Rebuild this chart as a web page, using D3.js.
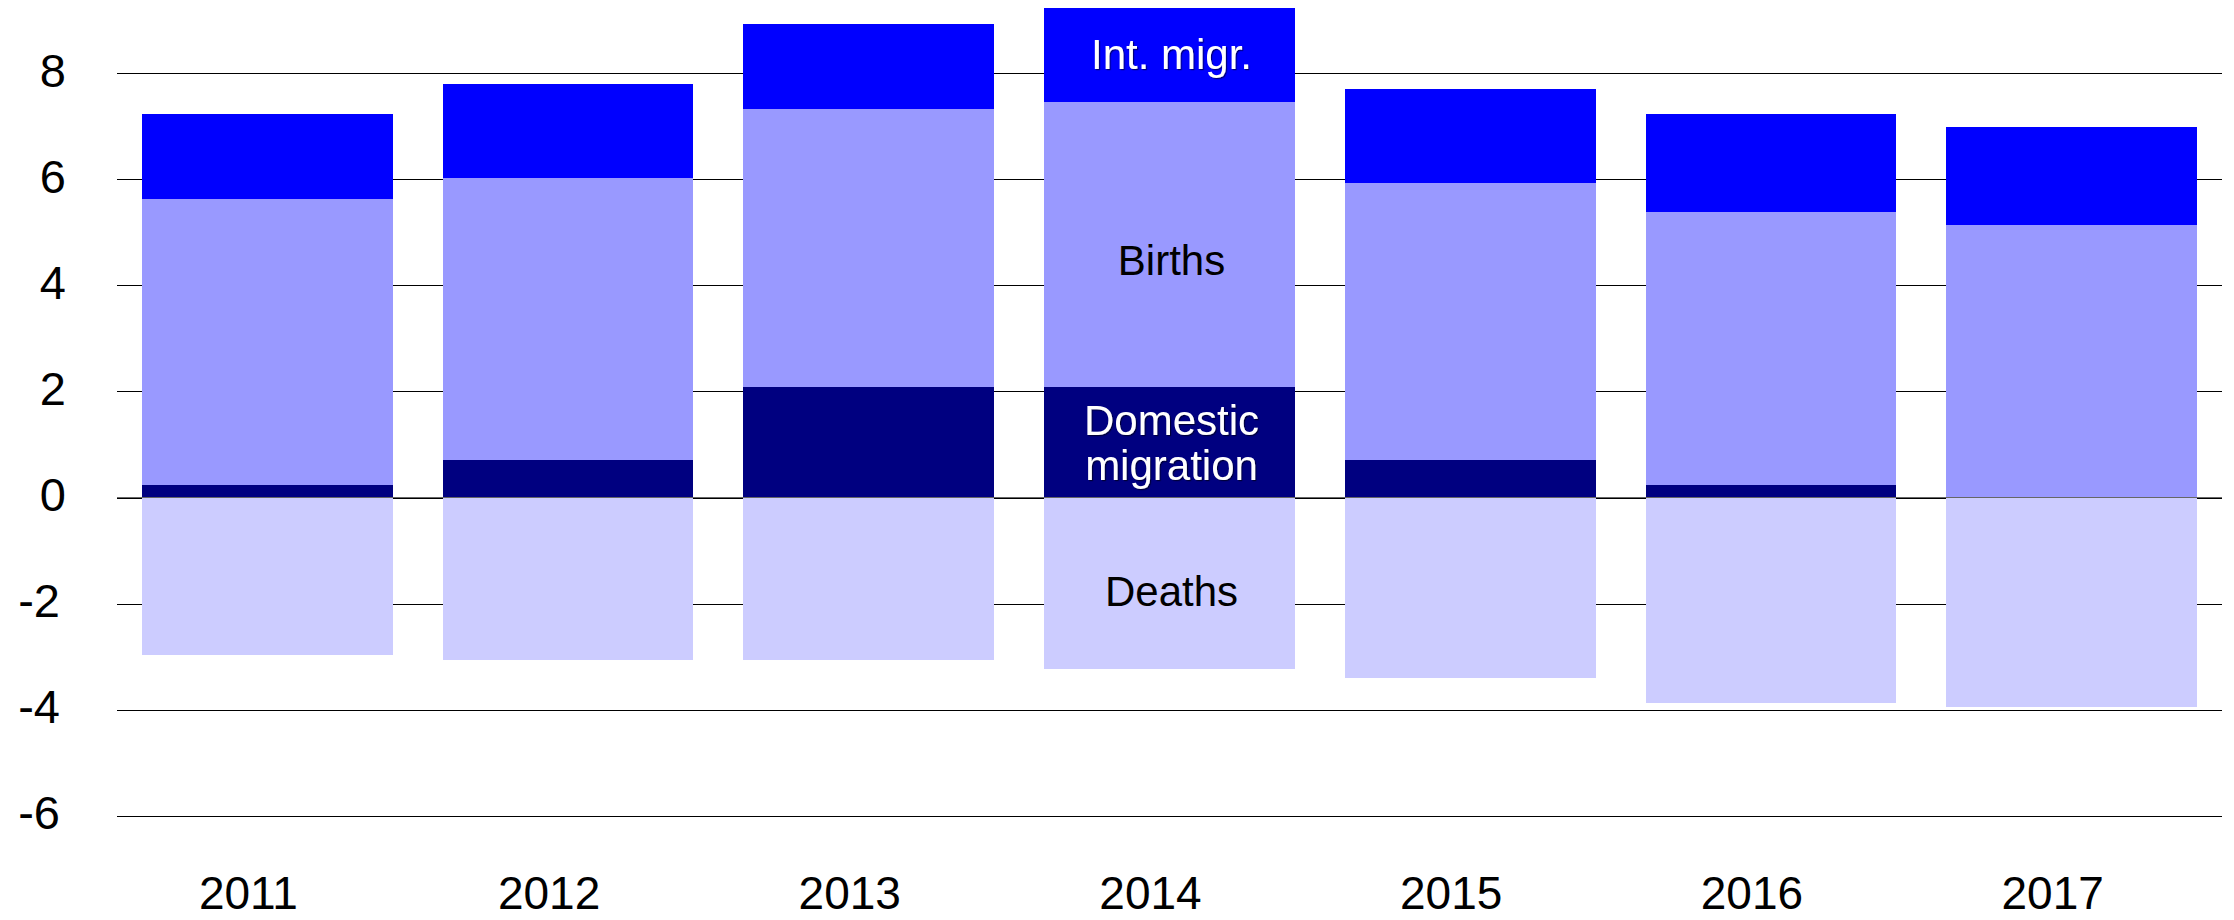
<!DOCTYPE html>
<html>
<head>
<meta charset="utf-8">
<script src="https://cdn.jsdelivr.net/npm/d3@7"></script>
<style>
  html, body { margin: 0; padding: 0; background: #fff; }
  svg { display: block; }
  text { font-family: "Liberation Sans", Arial, sans-serif; }
</style>
</head>
<body>
<svg id="chart" width="2234" height="920"></svg>
<script>
// ---- data ----
const years     = ["2011", "2012", "2013", "2014", "2015", "2016", "2017"];
const domestic  = [0.23, 0.71, 2.08, 2.08, 0.71, 0.23, 0.00];
const births    = [5.40, 5.32, 5.24, 5.38, 5.23, 5.15, 5.14];
const intMigr   = [1.60, 1.77, 1.62, 1.78, 1.77, 1.85, 1.85];
const deaths    = [-2.98, -3.06, -3.06, -3.23, -3.40, -3.88, -3.95];
const yTicks    = [-6, -4, -2, 0, 2, 4, 6, 8];
const seriesKeys   = ["domestic", "births", "intMigr", "deaths"];
const seriesLabels = {intMigr: "Int. migr.", births: "Births", domestic: ["Domestic", "migration"], deaths: "Deaths"};
const labelYear = "2014";

// ---- styles ----
const colors = {domestic: "#000080", births: "#9999FF", intMigr: "#0000FF", deaths: "#CCCCFF"};
const labelColors = {domestic: "#ffffff", births: "#000000", intMigr: "#ffffff", deaths: "#000000"};

const table = years.map((yr, i) => ({
  year: yr, domestic: domestic[i], births: births[i], intMigr: intMigr[i], deaths: deaths[i]
}));

const svg = d3.select("#chart");
const left = 117, right = 2222;

const x = d3.scaleBand().domain(years).range([left, right])
  .paddingInner(0.166).paddingOuter(0.083);
const y = d3.scaleLinear().domain([-6, 8]).range([815.6, 73.4]);

const defs = svg.append("defs");
const f = defs.append("filter").attr("id", "shadow")
  .attr("x", "-10%").attr("y", "-10%").attr("width", "120%").attr("height", "130%");
f.append("feDropShadow").attr("dx", 1.2).attr("dy", 1.2).attr("stdDeviation", 0.6)
  .attr("flood-color", "#000").attr("flood-opacity", 0.55);

// gridlines + tick labels
const axis = d3.axisLeft(y).tickValues(yTicks).tickSize(-(right - left)).tickFormat(d3.format("d"));
const gAxis = svg.append("g").attr("transform", `translate(${left},0)`).call(axis);
gAxis.select(".domain").remove();
gAxis.selectAll(".tick line").attr("stroke", "#000").attr("stroke-width", 1)
  .attr("shape-rendering", "crispEdges");
gAxis.selectAll(".tick text")
  .attr("x", d => d < 0 ? -57 : -51)
  .attr("dy", "13px")
  .attr("dominant-baseline", "auto")
  .attr("font-size", 47)
  .attr("fill", "#000")
  .attr("text-anchor", "end")
  .text(d => d < 0 ? "-" + Math.abs(d) : String(d));

// stacked bars
const stack = d3.stack().keys(seriesKeys).offset(d3.stackOffsetDiverging);
const series = stack(table);

svg.append("g").selectAll("g").data(series).join("g")
  .attr("fill", s => colors[s.key])
  .selectAll("rect").data(s => s).join("rect")
  .attr("x", d => x(d.data.year))
  .attr("width", x.bandwidth())
  .attr("y", d => y(Math.max(d[0], d[1])))
  .attr("height", d => Math.abs(y(d[0]) - y(d[1])))
  .attr("shape-rendering", "crispEdges");

// zero line on top
svg.append("line")
  .attr("x1", left).attr("x2", right)
  .attr("y1", y(0)).attr("y2", y(0))
  .attr("stroke", "#666").attr("stroke-width", 1)
  .attr("shape-rendering", "crispEdges");

// year labels
svg.append("g").selectAll("text").data(years).join("text")
  .attr("x", d => x(d) + x.bandwidth() / 2 - 19)
  .attr("y", 909)
  .attr("text-anchor", "middle")
  .attr("font-size", 46)
  .attr("fill", "#000")
  .text(d => d);

// series labels inside the 2014 bar
const idx = years.indexOf(labelYear);
const cx = x(labelYear) + x.bandwidth() / 2 + 2;
const baselineShift = {intMigr: [14.5], births: [30], domestic: [-7, 38], deaths: [23]};
const gLab = svg.append("g");
series.forEach(s => {
  const seg = s[idx];
  const mid = (y(seg[0]) + y(seg[1])) / 2;
  const lines = [].concat(seriesLabels[s.key]);
  lines.forEach((ln, j) => {
    gLab.append("text")
      .attr("x", cx)
      .attr("y", mid + baselineShift[s.key][j])
      .attr("text-anchor", "middle")
      .attr("font-size", 42)
      .attr("fill", labelColors[s.key])
      .attr("filter", labelColors[s.key] === "#ffffff" ? "url(#shadow)" : null)
      .text(ln);
  });
});
</script>
</body>
</html>
